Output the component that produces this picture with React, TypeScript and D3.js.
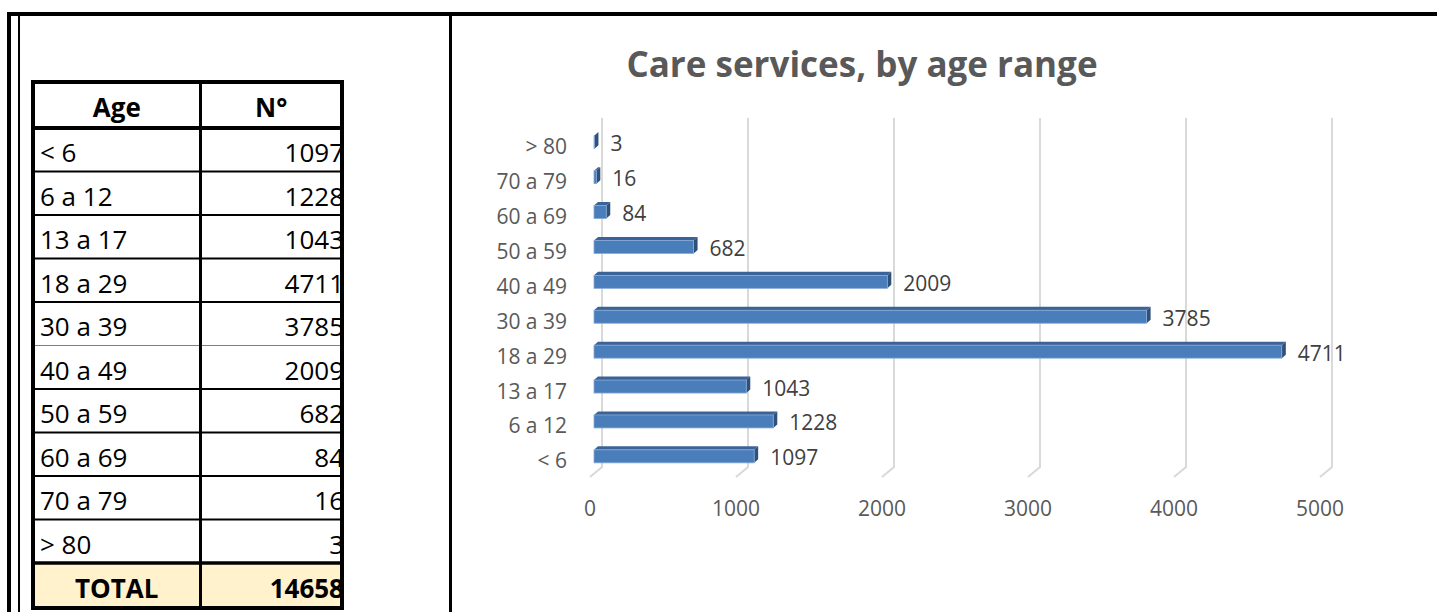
import React from "react";
import * as d3 from "d3";

const ageLabels = ["< 6", "6 a 12", "13 a 17", "18 a 29", "30 a 39", "40 a 49", "50 a 59", "60 a 69", "70 a 79", "> 80"];
const counts = [1097, 1228, 1043, 4711, 3785, 2009, 682, 84, 16, 3];
const xTicks = [0, 1000, 2000, 3000, 4000, 5000];
const chartTitle = "Care services, by age range";
const tableHeaders = ["Age", "N°"];
const totalLabel = "TOTAL";

const FONT = "'Open Sans', 'Noto Sans', sans-serif";

export default function App() {
  const W = 1437, H = 612;
  // chart scales (back wall coordinates)
  const x = d3.scaleLinear().domain([0, 5000]).range([602, 1332]);
  const y = d3.scaleBand<string>().domain(ageLabels).range([467, 118]);
  const gridTop = 118, gridBottom = 467;
  const floorDx = -12, floorDy = 10;
  const barOffX = -8, barOffY = 6.8;
  const frontH = 13, depthX = 4, depthY = -3.5;

  // table geometry
  const tL = 33, tR = 342, tC = 200.5, tTop = 82, headB = 128, rowH = 43.5;
  const rowY = d3.scaleLinear().domain([0, ageLabels.length]).range([headB, headB + rowH * ageLabels.length]);
  const totalTop = rowY(ageLabels.length);
  const tBottom = 608;
  const total = d3.sum(counts);

  return (
    <svg width={W} height={H} style={{ position: "absolute", left: 0, top: 0, background: "#fff" }}>
      <rect x={0} y={0} width={W} height={H} fill="#fff" />
      {/* outer frame */}
      <line x1={7} x2={W} y1={14} y2={14} stroke="#000" strokeWidth={4} />
      <line x1={9} x2={9} y1={12} y2={H} stroke="#000" strokeWidth={4} />
      <line x1={19} x2={19} y1={14} y2={H} stroke="#000" strokeWidth={2} />
      <line x1={450.5} x2={450.5} y1={12} y2={H} stroke="#000" strokeWidth={3} />

      {/* table */}
      <rect x={tL} y={totalTop} width={tR - tL} height={tBottom - totalTop} fill="#fff2cc" />
      <g fontFamily={FONT} fontSize={26} fill="#000">
        <text x={(tL + tC) / 2} y={117} textAnchor="middle" fontWeight="bold">{tableHeaders[0]}</text>
        <text x={(tC + tR) / 2} y={117} textAnchor="middle" fontWeight="bold">{tableHeaders[1]}</text>
        {ageLabels.map((a, i) => (
          <g key={a}>
            <text x={40} y={rowY(i) + 34}>{a}</text>
            <text x={344} y={rowY(i) + 34} textAnchor="end">{counts[i]}</text>
          </g>
        ))}
        <text x={(tL + tC) / 2} y={totalTop + 35} textAnchor="middle" fontWeight="bold">{totalLabel}</text>
        <text x={344} y={totalTop + 35} textAnchor="end" fontWeight="bold">{total}</text>
      </g>
      {ageLabels.map((a, i) =>
        i === 0 ? null : (
          <line key={"rl" + a} x1={tL} x2={tR} y1={rowY(i)} y2={rowY(i)}
            stroke={i === 5 ? "#7f7f7f" : "#000"} strokeWidth={i === 5 ? 1 : 2} />
        )
      )}
      <line x1={tL} x2={tR} y1={headB} y2={headB} stroke="#000" strokeWidth={4} />
      <line x1={tL} x2={tR} y1={totalTop} y2={totalTop} stroke="#000" strokeWidth={3.5} />
      <line x1={tC} x2={tC} y1={tTop} y2={tBottom} stroke="#000" strokeWidth={3} />
      <rect x={tL} y={tTop} width={tR - tL} height={tBottom - tTop} fill="none" stroke="#000" strokeWidth={4} />

      {/* chart title */}
      <text x={862} y={77} textAnchor="middle" fontFamily={FONT} fontWeight="bold" fontSize={35} fill="#595959">{chartTitle}</text>

      {/* gridlines */}
      {xTicks.map((t) => (
        <g key={"g" + t}>
          <polyline
            points={`${x(t)},${gridTop} ${x(t)},${gridBottom} ${x(t) + floorDx},${gridBottom + floorDy}`}
            fill="none" stroke="#d9d9d9" strokeWidth={2} />
          <text x={x(t) + floorDx} y={508} textAnchor="middle" dominantBaseline="central"
            fontFamily={FONT} fontSize={21} fill="#595959">{t}</text>
        </g>
      ))}

      {/* bars */}
      {ageLabels.map((a, i) => {
        const v = counts[i];
        const cy = (y(a) as number) + y.bandwidth() / 2 + barOffY;
        const x0 = x(0) + barOffX, x1 = x(v) + barOffX;
        const yt = cy - frontH / 2, yb = cy + frontH / 2;
        return (
          <g key={"b" + a}>
            <polygon points={`${x0},${yt} ${x1},${yt} ${x1 + depthX},${yt + depthY} ${x0 + depthX},${yt + depthY}`} fill="#3c6397" />
            <polygon points={`${x1},${yt} ${x1 + depthX},${yt + depthY} ${x1 + depthX},${yb + depthY} ${x1},${yb}`} fill="#2f5079" />
            <rect x={x0} y={yt} width={Math.max(0, x1 - x0)} height={frontH} fill="#4a7ebb" stroke="#86a9d8" strokeWidth={0.8} />
            <text x={567} y={cy + 4} textAnchor="end" dominantBaseline="central" fontFamily={FONT} fontSize={21} fill="#595959">{a}</text>
            <text x={x1 + depthX + 12} y={cy + 1} dominantBaseline="central" fontFamily={FONT} fontSize={21} fill="#404040">{v}</text>
          </g>
        );
      })}
    </svg>
  );
}
